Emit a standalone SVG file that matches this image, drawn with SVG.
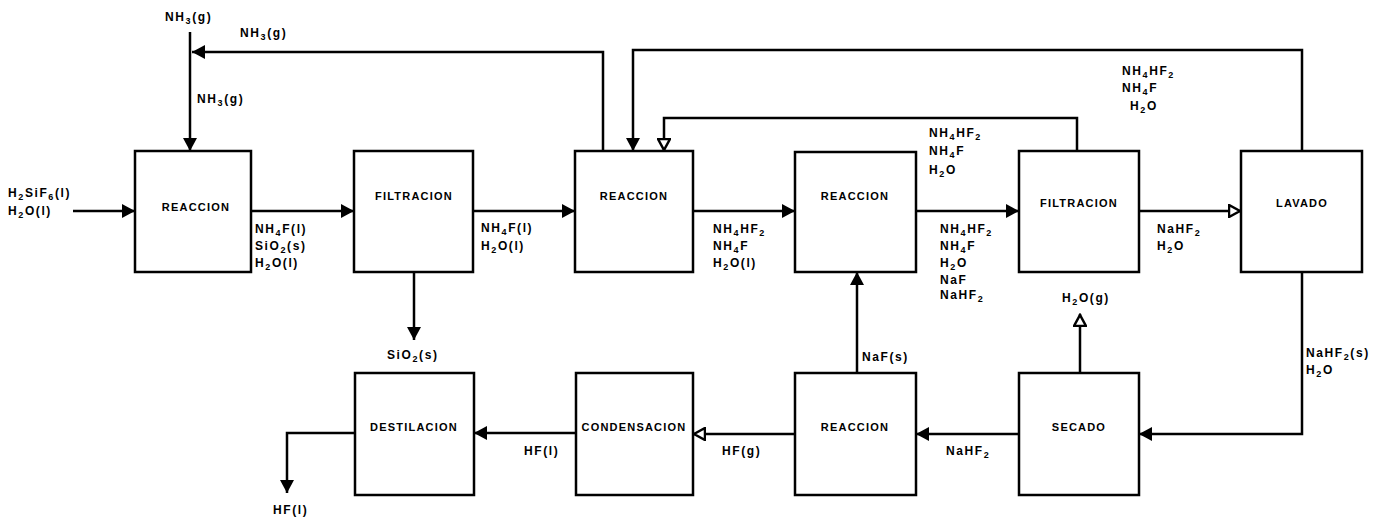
<svg xmlns="http://www.w3.org/2000/svg" width="1376" height="518" viewBox="0 0 1376 518">
<style>
.box{fill:#fff;stroke:#000;stroke-width:2.5}
.bl{font-family:"Liberation Sans",Arial,sans-serif;font-weight:bold;font-size:11px;letter-spacing:1.2px;text-anchor:middle;fill:#000}
.t{font-family:"Liberation Sans",Arial,sans-serif;font-weight:bold;font-size:12px;letter-spacing:1.6px;fill:#000}
.t tspan.s{font-size:9px}
.c{fill:none;stroke:#000;stroke-width:2.5}
</style>
<defs>
<marker id="ah" markerUnits="userSpaceOnUse" markerWidth="14" markerHeight="14" refX="13" refY="7" orient="auto">
<path d="M0,0 L13,7 L0,14 z" fill="#000"/>
</marker>
<marker id="ao" markerUnits="userSpaceOnUse" markerWidth="14" markerHeight="14" refX="13" refY="7" orient="auto">
<path d="M1,1 L12,7 L1,13 z" fill="#fff" stroke="#000" stroke-width="2.5"/>
</marker>
</defs>
<rect width="1376" height="518" fill="#fff"/>

<g id="connectors">
<path class="c" d="M73 211 H135" marker-end="url(#ah)"/>
<path class="c" d="M251 211 H354" marker-end="url(#ah)"/>
<path class="c" d="M473 211 H575" marker-end="url(#ah)"/>
<path class="c" d="M693 211 H795" marker-end="url(#ah)"/>
<path class="c" d="M916 211 H1019" marker-end="url(#ah)"/>
<path class="c" d="M1139 211 H1241" marker-end="url(#ao)"/>
<path class="c" d="M603 151 V52 H192" marker-end="url(#ah)"/>
<path class="c" d="M190 32 V151" marker-end="url(#ah)"/>
<path class="c" d="M1302 151 V50 H633 V151" marker-end="url(#ah)"/>
<path class="c" d="M1077 151 V118 H664 V151" marker-end="url(#ao)"/>
<path class="c" d="M414 272 V340" marker-end="url(#ah)"/>
<path class="c" d="M857 373 V272" marker-end="url(#ah)"/>
<path class="c" d="M1302 272 V434 H1139" marker-end="url(#ah)"/>
<path class="c" d="M1080 373 V314" marker-end="url(#ao)"/>
<path class="c" d="M1019 434 H916" marker-end="url(#ah)"/>
<path class="c" d="M795 434 H693" marker-end="url(#ao)"/>
<path class="c" d="M576 433 H474" marker-end="url(#ah)"/>
<path class="c" d="M355 433 H287 V493" marker-end="url(#ah)"/>
</g>

<g id="n1"><rect class="box" x="135" y="151" width="116" height="121"/><text class="bl" x="196" y="211">REACCION</text></g>
<g id="n2"><rect class="box" x="354" y="151" width="119" height="121"/><text class="bl" x="414" y="200">FILTRACION</text></g>
<g id="n3"><rect class="box" x="575" y="151" width="118" height="121"/><text class="bl" x="634" y="200">REACCION</text></g>
<g id="n4"><rect class="box" x="795" y="152" width="121" height="120"/><text class="bl" x="855" y="200">REACCION</text></g>
<g id="n5"><rect class="box" x="1019" y="151" width="120" height="121"/><text class="bl" x="1079" y="207">FILTRACION</text></g>
<g id="n6"><rect class="box" x="1241" y="151" width="121" height="121"/><text class="bl" x="1302" y="207">LAVADO</text></g>
<g id="n7"><rect class="box" x="355" y="373" width="119" height="122"/><text class="bl" x="414" y="431">DESTILACION</text></g>
<g id="n8"><rect class="box" x="576" y="373" width="117" height="122"/><text class="bl" x="634" y="431">CONDENSACION</text></g>
<g id="n9"><rect class="box" x="795" y="373" width="121" height="122"/><text class="bl" x="855" y="431">REACCION</text></g>
<g id="n10"><rect class="box" x="1019" y="373" width="120" height="122"/><text class="bl" x="1079" y="431">SECADO</text></g>

<g id="labels">
<text class="t" x="165" y="21">NH<tspan class="s" dy="3">3</tspan><tspan dy="-3">(g)</tspan></text>
<text class="t" x="240" y="37">NH<tspan class="s" dy="3">3</tspan><tspan dy="-3">(g)</tspan></text>
<text class="t" x="197" y="103">NH<tspan class="s" dy="3">3</tspan><tspan dy="-3">(g)</tspan></text>
<text class="t" x="8" y="197">H<tspan class="s" dy="3">2</tspan><tspan dy="-3">SiF</tspan><tspan class="s" dy="3">6</tspan><tspan dy="-3">(l)</tspan></text>
<text class="t" x="8" y="215">H<tspan class="s" dy="3">2</tspan><tspan dy="-3">O(l)</tspan></text>
<text class="t" x="255" y="233">NH<tspan class="s" dy="3">4</tspan><tspan dy="-3">F(l)</tspan></text>
<text class="t" x="255" y="250">SiO<tspan class="s" dy="3">2</tspan><tspan dy="-3">(s)</tspan></text>
<text class="t" x="255" y="267">H<tspan class="s" dy="3">2</tspan><tspan dy="-3">O(l)</tspan></text>
<text class="t" x="481" y="232">NH<tspan class="s" dy="3">4</tspan><tspan dy="-3">F(l)</tspan></text>
<text class="t" x="481" y="250">H<tspan class="s" dy="3">2</tspan><tspan dy="-3">O(l)</tspan></text>
<text class="t" x="713" y="233">NH<tspan class="s" dy="3">4</tspan><tspan dy="-3">HF</tspan><tspan class="s" dy="3">2</tspan></text>
<text class="t" x="713" y="250">NH<tspan class="s" dy="3">4</tspan><tspan dy="-3">F</tspan></text>
<text class="t" x="713" y="267">H<tspan class="s" dy="3">2</tspan><tspan dy="-3">O(l)</tspan></text>
<text class="t" x="929" y="137">NH<tspan class="s" dy="3">4</tspan><tspan dy="-3">HF</tspan><tspan class="s" dy="3">2</tspan></text>
<text class="t" x="929" y="155">NH<tspan class="s" dy="3">4</tspan><tspan dy="-3">F</tspan></text>
<text class="t" x="929" y="174">H<tspan class="s" dy="3">2</tspan><tspan dy="-3">O</tspan></text>
<text class="t" x="940" y="233">NH<tspan class="s" dy="3">4</tspan><tspan dy="-3">HF</tspan><tspan class="s" dy="3">2</tspan></text>
<text class="t" x="940" y="250">NH<tspan class="s" dy="3">4</tspan><tspan dy="-3">F</tspan></text>
<text class="t" x="940" y="267">H<tspan class="s" dy="3">2</tspan><tspan dy="-3">O</tspan></text>
<text class="t" x="940" y="284">NaF</text>
<text class="t" x="940" y="299">NaHF<tspan class="s" dy="3">2</tspan></text>
<text class="t" x="1122" y="75">NH<tspan class="s" dy="3">4</tspan><tspan dy="-3">HF</tspan><tspan class="s" dy="3">2</tspan></text>
<text class="t" x="1122" y="92">NH<tspan class="s" dy="3">4</tspan><tspan dy="-3">F</tspan></text>
<text class="t" x="1130" y="110">H<tspan class="s" dy="3">2</tspan><tspan dy="-3">O</tspan></text>
<text class="t" x="1157" y="233">NaHF<tspan class="s" dy="3">2</tspan></text>
<text class="t" x="1157" y="250">H<tspan class="s" dy="3">2</tspan><tspan dy="-3">O</tspan></text>
<text class="t" x="387" y="359">SiO<tspan class="s" dy="3">2</tspan><tspan dy="-3">(s)</tspan></text>
<text class="t" x="524" y="455">HF(l)</text>
<text class="t" x="722" y="455">HF(g)</text>
<text class="t" x="862" y="361">NaF(s)</text>
<text class="t" x="946" y="455">NaHF<tspan class="s" dy="3">2</tspan></text>
<text class="t" x="1062" y="302">H<tspan class="s" dy="3">2</tspan><tspan dy="-3">O(g)</tspan></text>
<text class="t" x="1306" y="357">NaHF<tspan class="s" dy="3">2</tspan><tspan dy="-3">(s)</tspan></text>
<text class="t" x="1306" y="374">H<tspan class="s" dy="3">2</tspan><tspan dy="-3">O</tspan></text>
<text class="t" x="273" y="514">HF(l)</text>
</g>
</svg>
